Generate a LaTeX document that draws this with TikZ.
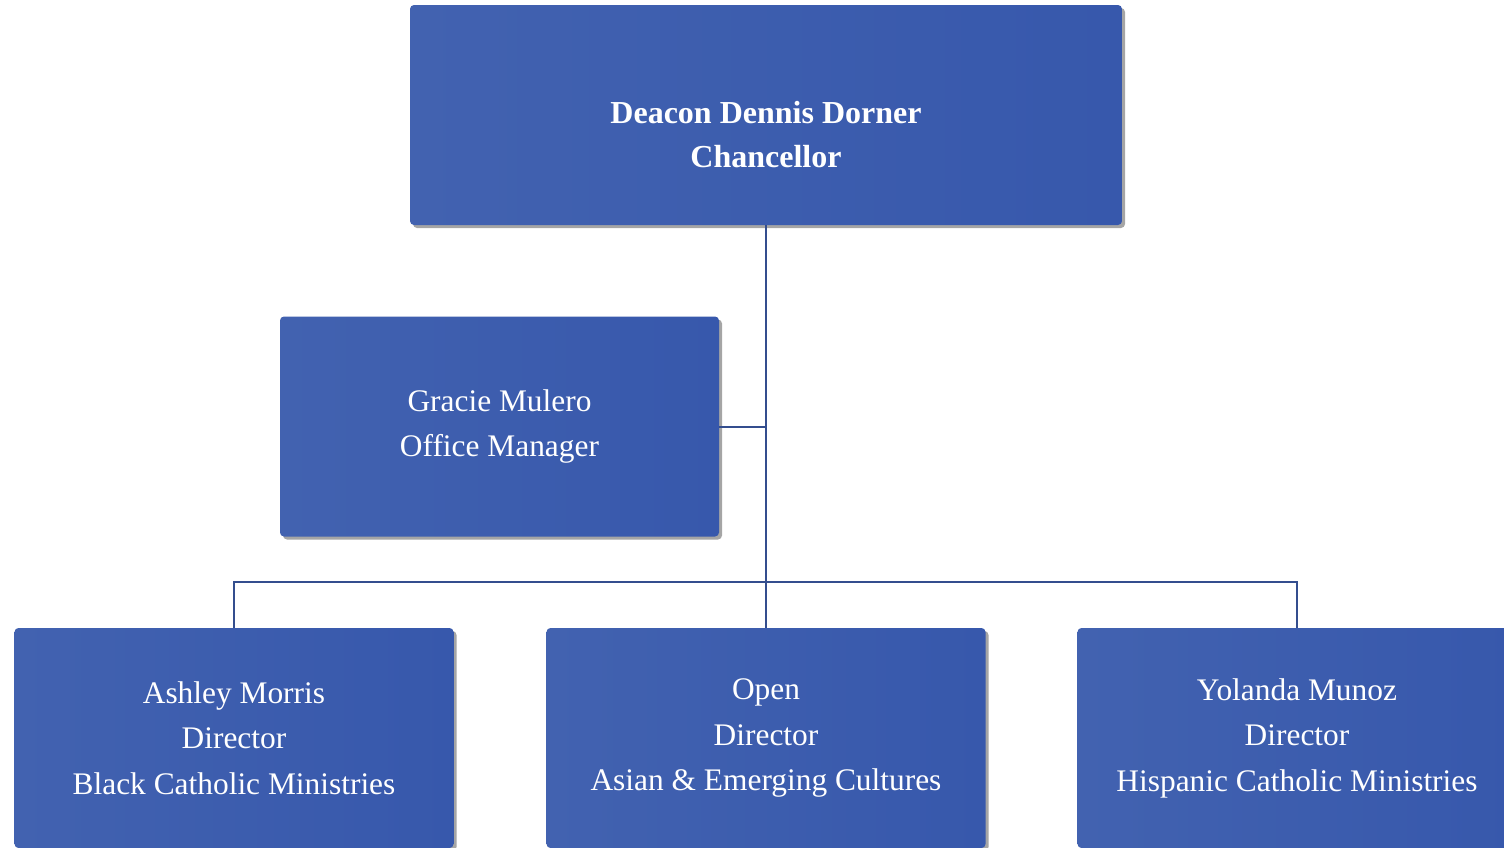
\documentclass[tikz,border=0pt]{standalone}
\usepackage{fontspec}
\setmainfont{Liberation Serif}
\usepackage{xcolor}
\usetikzlibrary{shadows, positioning, calc}

\definecolor{boxblue}{RGB}{55,88,172}
\definecolor{boxlight}{RGB}{66,98,176}
\definecolor{linkblue}{RGB}{52,78,142}

\begin{document}
\begin{tikzpicture}[x=0.5pt, y=-0.5pt]
\tikzstyle{member} = [rectangle, rounded corners=2pt, minimum width=219.5pt, minimum height=110pt, inner sep=0pt, text centered, align=center, text=white, left color=boxlight, right color=boxblue, drop shadow={shadow xshift=1.5pt, shadow yshift=-1.5pt, opacity=0.7}, font=\fontsize{15.7}{22.75}\selectfont]
\tikzstyle{chief} = [member, minimum width=356pt, font=\fontsize{16}{21.7}\selectfont\bfseries]
\tikzstyle{link} = [draw=linkblue, line width=1pt]

\useasboundingbox[fill=white] (0,0) rectangle (1504,847);

\node[chief] (chancellor) at (766,115) {\rule{0pt}{30.5pt}Deacon Dennis Dorner\\Chancellor};
\node[member] (manager) at (499.5,426.5) {Gracie Mulero\\Office Manager};
\node[member] (black) at (234,738) {Ashley Morris\\Director\\Black Catholic Ministries};
\node[member] (asian) at (766,738) {Open\\Director\\Asian \& Emerging Cultures};
\node[member] (hispanic) at (1297,738) {Yolanda Munoz\\Director\\Hispanic Catholic Ministries};
\coordinate (bus) at (766,582);

\draw[link] (chancellor.south) -- (asian.north);
\draw[link] (manager.east) -- (manager.east -| asian.north);
\draw[link] (black.north) |- (bus) -| (hispanic.north);
\end{tikzpicture}
\end{document}
